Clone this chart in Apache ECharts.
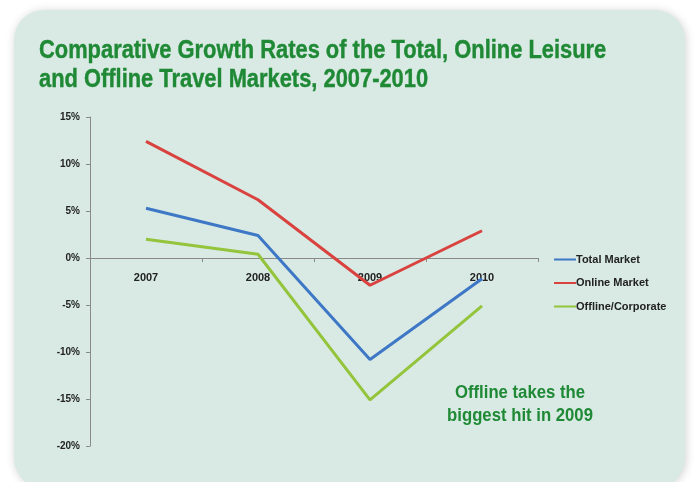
<!DOCTYPE html>
<html>
<head>
<meta charset="utf-8">
<script src="https://cdn.jsdelivr.net/npm/echarts@6/dist/echarts.min.js"></script>
<style>
  html, body { margin: 0; padding: 0; background: #ffffff; }
  #chart { width: 694px; height: 482px; }
</style>
</head>
<body>
<div id="chart"></div>
<script>
// Growth rates (%) by year
const years = ['2007', '2008', '2009', '2010'];
const totalMarket = [5.3, 2.4, -10.8, -2.2];
const onlineMarket = [12.4, 6.2, -2.9, 2.9];
const offlineCorporate = [2.0, 0.4, -15.1, -5.1];
const yTicks = [-20, -15, -10, -5, 0, 5, 10, 15];

const FONT = '"Liberation Sans", Arial, sans-serif';
const GREEN_TEXT = '#1f8936';

const gridTop = 117, gridBottom = 36, chartHeight = 482;
const yMin = yTicks[0], yMax = yTicks[yTicks.length - 1];
// Category axis sits on the zero line: shift it up from the grid bottom
const plotHeight = chartHeight - gridTop - gridBottom;
const zeroOffset = plotHeight * (0 - yMin) / (yMax - yMin);

const chart = echarts.init(document.getElementById('chart'));

function lineSeries(name, data, color) {
  return {
    name: name,
    type: 'line',
    data: data,
    symbol: 'none',
    z: 5,
    lineStyle: { width: 3, color: color },
    itemStyle: { color: color }
  };
}

chart.setOption({
  backgroundColor: '#ffffff',
  animation: false,
  graphic: [
    {
      type: 'rect',
      z: -10,
      silent: true,
      shape: { x: 14, y: 10, width: 671, height: 478, r: 30 },
      style: {
        fill: '#d8eae3',
        shadowBlur: 10,
        shadowColor: 'rgba(0,0,0,0.18)',
        shadowOffsetX: 1,
        shadowOffsetY: 1
      }
    },
    {
      type: 'text',
      x: 39,
      y: 37,
      scaleX: 0.875,
      z: 10,
      style: {
        text: 'Comparative Growth Rates of the Total, Online Leisure\nand Offline Travel Markets, 2007-2010',
        font: 'bold 25px ' + FONT,
        lineHeight: 29,
        fill: GREEN_TEXT,
        stroke: GREEN_TEXT,
        lineWidth: 0.4
      }
    },
    {
      type: 'text',
      x: 520,
      y: 381,
      scaleX: 0.88,
      z: 10,
      style: {
        text: 'Offline takes the\nbiggest hit in 2009',
        font: 'bold 19px ' + FONT,
        lineHeight: 23,
        align: 'center',
        fill: GREEN_TEXT
      }
    }
  ],
  legend: {
    orient: 'vertical',
    left: 549,
    top: 249,
    itemGap: 12.5,
    itemWidth: 22,
    itemHeight: 11,
    icon: 'path://M0,4.5 L22,4.5 L22,6.5 L0,6.5 Z',
    textStyle: {
      fontFamily: FONT,
      fontWeight: 'bold',
      fontSize: 11,
      color: '#222',
      padding: [0, 0, 0, -5]
    },
    data: ['Total Market', 'Online Market', 'Offline/Corporate']
  },
  grid: { left: 90, right: 156, top: gridTop, bottom: gridBottom, containLabel: false },
  xAxis: {
    type: 'category',
    data: years,
    boundaryGap: true,
    position: 'bottom',
    offset: -zeroOffset,
    axisLine: { onZero: false, lineStyle: { color: '#8a8a8a', width: 1 } },
    axisTick: { show: true, length: 4, lineStyle: { color: '#8a8a8a' } },
    axisLabel: {
      margin: 14,
      fontFamily: FONT,
      fontWeight: 'bold',
      fontSize: 11,
      color: '#222'
    },
    z: 1
  },
  yAxis: {
    type: 'value',
    min: yMin,
    max: yMax,
    interval: 5,
    axisLine: { show: true, lineStyle: { color: '#8a8a8a', width: 1 } },
    axisTick: { show: true, length: 4, lineStyle: { color: '#8a8a8a' } },
    splitLine: { show: false },
    axisLabel: {
      margin: 10,
      fontFamily: FONT,
      fontWeight: 'bold',
      fontSize: 10,
      color: '#222',
      formatter: '{value}%'
    }
  },
  series: [
    lineSeries('Total Market', totalMarket, '#3d77c6'),
    lineSeries('Online Market', onlineMarket, '#d9423f'),
    lineSeries('Offline/Corporate', offlineCorporate, '#93c43c')
  ]
});
</script>
</body>
</html>
